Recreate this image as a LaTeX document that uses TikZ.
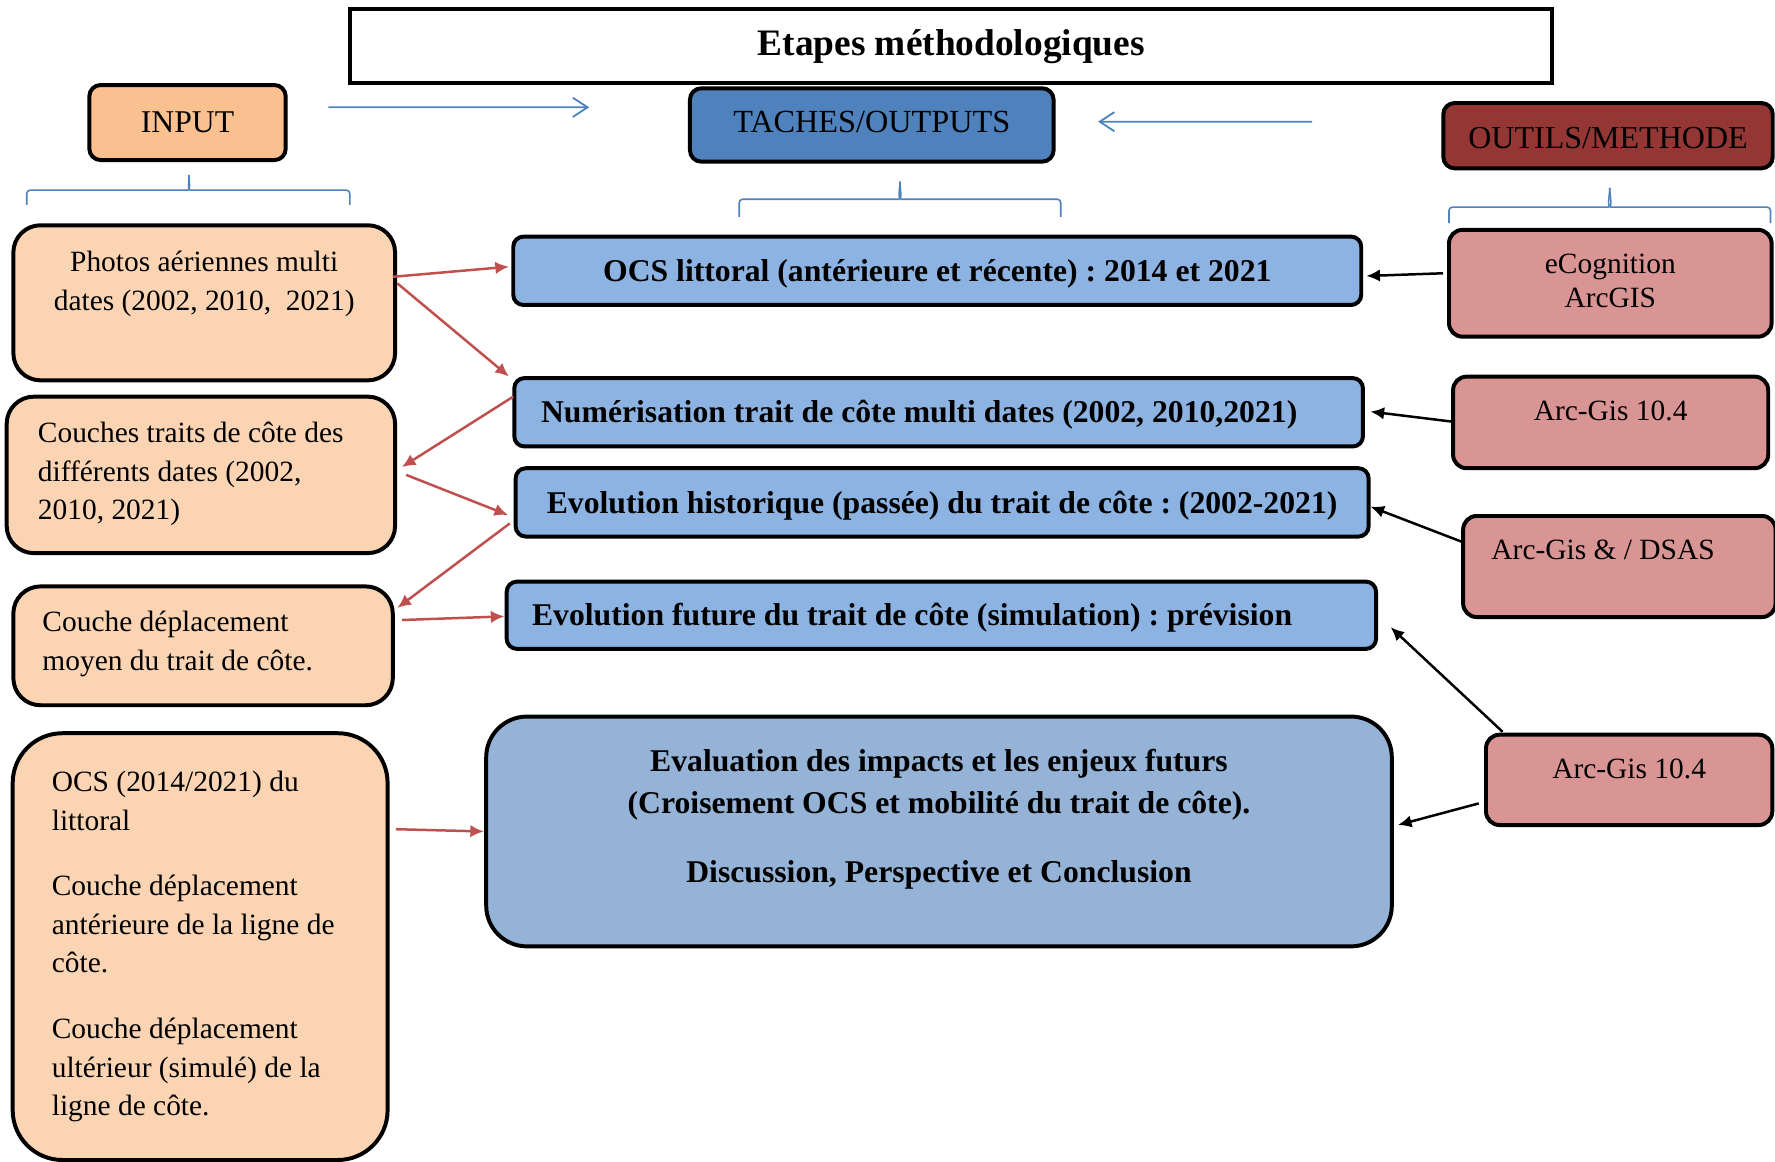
\documentclass[tikz,border=0pt]{standalone}
\usepackage{fontspec}
\setmainfont{Liberation Serif}
\usepackage{tikz}
\usetikzlibrary{arrows.meta}
\definecolor{inHead}{HTML}{FAC090}
\definecolor{inFill}{HTML}{FBD4B4}
\definecolor{taskHead}{HTML}{4F81BD}
\definecolor{taskFill}{HTML}{8DB3E2}
\definecolor{evalFill}{HTML}{95B3D7}
\definecolor{toolHead}{HTML}{943634}
\definecolor{toolFill}{HTML}{D99594}
\definecolor{redArrow}{HTML}{C0504D}
\newcommand{\fsize}[2]{\fontsize{#1}{#2}\selectfont}
\frenchspacing

\begin{document}
\begin{tikzpicture}[x=1pt, y=-1pt, >={Latex[length=12pt,width=11pt]}, line width=3.5pt,
	Box/.style={draw, anchor=north west, inner ysep=0pt, outer sep=0pt},
	Head/.style={Box, rounded corners=10pt, font=\fsize{28}{34}, inner xsep=0pt},
	InBox/.style={Box, fill=inFill, rounded corners=24pt, font=\fsize{26}{34}, align=flush left},
	TaskBox/.style={Box, fill=taskFill, rounded corners=9pt, font=\bfseries\fsize{28}{35},
			text height=39.6pt, text depth=20.8pt},
	ToolBox/.style={Box, fill=toolFill, rounded corners=12pt, font=\fsize{26}{30.5}, text height=38.4pt},
	RedArrow/.style={->, draw=redArrow, fill=redArrow, line width=2.2pt},
	BlackArrow/.style={->, line width=2.2pt},
	BlueArrow/.style={-{Straight Barb[length=13pt,width=17pt]}, draw=taskHead, line width=1.6pt},
	Brace/.style={draw=taskHead, line width=1.4pt, rounded corners=3pt}]
	\useasboundingbox (0,0) rectangle (1568,1026);
	% headers
	\node[Box, inner xsep=0pt, minimum width=1061.4pt, font=\bfseries\fsize{33}{40},
		text height=40.4pt, text depth=25pt] (Tit) at (309.6,8.2) {Etapes méthodologiques};
	\node[Head, fill=inHead, minimum width=173.5pt, text height=42.1pt, text depth=24.2pt] (Inp) at (78.9,75.1) {INPUT};
	\node[Head, fill=taskHead, minimum width=321.2pt, font=\fsize{28.5}{34},
		text height=38.8pt, text depth=26pt] (Tsk) at (609.5,78) {TACHES/OUTPUTS};
	\node[Head, fill=toolHead, minimum width=291pt, font=\fsize{28.3}{34},
		text height=40.5pt, text depth=17.2pt] (Out) at (1275,91) {OUTILS/METHODE};
	\draw[BlueArrow] ([shift={(37.6,-13.45)}]Inp.east) -- ([shift={(-89,-15.6)}]Tsk.west);
	\draw[BlueArrow] ([shift={(-116,-12.35)}]Out.west) -- ([shift={(39.3,-2.9)}]Tsk.east);
	\draw[Brace] (23.6,181) |- (163,168) to[out=0,in=-90] (167,154.6);
	\draw[Brace] (309,181) |- (171,168) to[out=180,in=-90] (167,154.6);
	\draw[Brace] (653,191.5) |- (791,176) to[out=0,in=-90] (795,160.5);
	\draw[Brace] (937,191.5) |- (799,176) to[out=180,in=-90] (795,160.5);
	\draw[Brace] (1280,197) |- (1418,183) to[out=0,in=-90] (1422,166);
	\draw[Brace] (1564,197) |- (1426,183) to[out=180,in=-90] (1422,166);
	% input
	\node[InBox, align=flush center, inner xsep=10pt, text width=317.2pt, text height=41pt, text depth=96pt]
		(Ph) at (11.8,199) {Photos aériennes multi\\dates (2002, 2010,\ \ 2021)};
	\node[InBox, inner xsep=27.6pt, text width=287.9pt, text height=40.6pt, text depth=97.6pt]
		(Co) at (5.9,350.4) {Couches traits de côte des\\différents dates (2002,\\2010, 2021)};
	\node[InBox, inner xsep=25.7pt, text width=283.8pt, text height=40pt, text depth=65pt]
		(De) at (11.8,518) {Couche déplacement\\moyen du trait de côte.};
	\node[InBox, rounded corners=44pt, inner xsep=34.6pt, text width=262pt, text height=51.7pt, text depth=325.3pt]
		(Oc) at (11.2,647.7) {OCS (2014/2021) du\\littoral\\[24pt]Couche déplacement\\antérieure de la ligne de\\côte.\\[24pt]Couche déplacement\\ultérieur (simulé) de la\\ligne de côte.};
	% tasks
	\node[TaskBox, minimum width=749.1pt] (T1) at (453.4,209) {OCS littoral (antérieure et récente) : 2014 et 2021};
	\node[TaskBox, align=flush left, inner xsep=23.7pt, text width=702.3pt] (T2) at (454.3,334)
		{Numérisation trait de côte multi dates (2002, 2010,2021)};
	\node[TaskBox, minimum width=753.5pt] (T3) at (455.5,413.6) {Evolution historique (passée) du trait de côte : (2002-2021)};
	\node[TaskBox, align=flush left, inner xsep=22.4pt, text width=723.2pt, text height=38.6pt] (T4) at (447.6,513.8)
		{Evolution future du trait de côte (simulation) : prévision};
	\node[Box, fill=evalFill, rounded corners=36pt, font=\bfseries\fsize{28}{36.5}, align=flush center, inner xsep=10pt,
		text width=780pt, text height=48.7pt, text depth=154.3pt] (Ev) at (429.5,633)
		{Evaluation des impacts et les enjeux futurs\\(Croisement OCS et mobilité du trait de côte).\\[24.5pt]Discussion, Perspective et Conclusion};
	% tools
	\node[ToolBox, align=flush center, inner xsep=10pt, text width=265pt, text depth=56pt] (O1) at (1280,203) {eCognition\\ArcGIS};
	\node[ToolBox, minimum width=278.4pt, text depth=42.5pt] (O2) at (1283.6,332.7) {Arc-Gis 10.4};
	\node[ToolBox, align=flush left, inner xsep=25pt, text width=226pt, text depth=50.9pt] (O3) at (1292.5,455.8) {Arc-Gis \& / DSAS};
	\node[ToolBox, minimum width=252.9pt, text depth=41.4pt] (O4) at (1312.7,649) {Arc-Gis 10.4};
	% links
	\draw[RedArrow] ([shift={(-2,-23)}]Ph.east) -- ([shift={(-3.8,-3.6)}]T1.west);
	\draw[RedArrow] ([shift={(2,-17.2)}]Ph.east) -- ([shift={(-4.7,-31.6)}]T2.west);
	\draw[RedArrow] ([shift={(-0.8,-13.9)}]T2.west) -- ([shift={(6,-6.9)}]Co.east);
	\draw[RedArrow] ([shift={(9.8,0)}]Co.east) -- ([shift={(-6.7,11.2)}]T3.west);
	\draw[RedArrow] ([shift={(-5.1,18.5)}]T3.west) -- ([shift={(4,-33.5)}]De.east);
	\draw[RedArrow] ([shift={(8,-22.8)}]De.east) -- ([shift={(-2,1)}]T4.west);
	\draw[RedArrow] ([shift={(7.3,-103.7)}]Oc.east) -- ([shift={(-2,0)}]Ev.west);
	\draw[BlackArrow] ([shift={(-5.3,-8.8)}]O1.west) -- ([shift={(4.5,4.6)}]T1.east);
	\draw[BlackArrow] ([shift={(0,-0.6)}]O2.west) -- ([shift={(6.7,-0.6)}]T2.east);
	\draw[BlackArrow] ([shift={(-1,-21.8)}]O3.west) -- ([shift={(1.7,3.8)}]T3.east);
	\draw[BlackArrow] ([shift={(14.6,-2.6)}]O4.north west) -- ([shift={(12.9,-19.1)}]T4.south east);
	\draw[BlackArrow] ([shift={(-6.4,20.8)}]O4.west) -- ([shift={(5.4,-5.7)}]Ev.east);
\end{tikzpicture}
\end{document}
